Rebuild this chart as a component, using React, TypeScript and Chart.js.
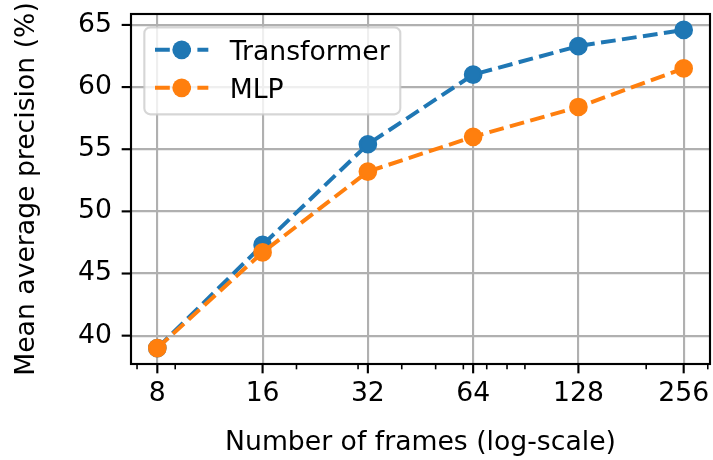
import React, { useEffect, useRef } from 'react';
import { Chart, registerables } from 'chart.js';

Chart.register(...registerables);

// ---- data ----
const frames = [8, 16, 32, 64, 128, 256];
const transformerMAP = [39.0, 47.3, 55.4, 61.0, 63.3, 64.6];
const mlpMAP = [39.0, 46.7, 53.2, 56.0, 58.4, 61.5];
const seriesLabels = ['Transformer', 'MLP'];
const seriesColors = ['#1f77b4', '#ff7f0e'];
const xMajorTicks = [8, 16, 32, 64, 128, 256];
const xMinorTicks = [7, 9, 20, 30, 40, 50, 60, 70, 80, 90, 200, 300];
const yTicks = [40, 45, 50, 55, 60, 65];
const xTitle = 'Number of frames (log-scale)';
const yTitle = 'Mean average precision (%)';

const FONT = "'DejaVu Sans', sans-serif";
const PT = 192 / 72; // px per point
const FS = 10 * PT;
const LW = 1.5 * PT;
const DASH = [3.7 * LW, 1.6 * LW];

// matplotlib-like 5% margins
const allY = [...transformerMAP, ...mlpMAP];
const yLo = Math.min(...allY);
const yHi = Math.max(...allY);
const yMin = yLo - 0.05 * (yHi - yLo);
const yMax = yHi + 0.05 * (yHi - yLo);
const lx0 = Math.log2(Math.min(...frames));
const lx1 = Math.log2(Math.max(...frames));
const xMin = Math.pow(2, lx0 - 0.05 * (lx1 - lx0));
const xMax = Math.pow(2, lx1 + 0.05 * (lx1 - lx0));

const framePlugin = {
  id: 'mplFrame',
  afterDatasetsDraw(chart: any) {
    const { ctx, chartArea: a, scales } = chart;
    const xs = scales.x;
    const ys = scales.y;
    ctx.save();
    ctx.strokeStyle = '#000';
    const seg = (x0: number, y0: number, x1: number, y1: number) => {
      ctx.beginPath();
      ctx.moveTo(x0, y0);
      ctx.lineTo(x1, y1);
      ctx.stroke();
    };
    ctx.lineWidth = 0.8 * PT;
    for (const v of xMajorTicks) {
      const px = xs.getPixelForValue(v);
      seg(px, a.bottom, px, a.bottom + 3.5 * PT);
    }
    ctx.lineWidth = 0.6 * PT;
    for (const v of xMinorTicks) {
      if (v < xs.min || v > xs.max) continue;
      const px = xs.getPixelForValue(v);
      seg(px, a.bottom, px, a.bottom + 2 * PT);
    }
    ctx.lineWidth = 0.8 * PT;
    for (const v of yTicks) {
      const py = ys.getPixelForValue(v);
      seg(a.left - 3.5 * PT, py, a.left, py);
    }
    ctx.lineJoin = 'miter';
    ctx.strokeRect(a.left, a.top, a.right - a.left, a.bottom - a.top);
    ctx.restore();
  },
  afterDraw(chart: any) {
    const { ctx, chartArea: a } = chart;
    const ds = chart.data.datasets;
    ctx.save();
    ctx.font = `${FS}px ${FONT}`;
    const left = a.left + 0.5 * FS;
    const top = a.top + 0.5 * FS;
    const handleX = left + 0.4 * FS;
    const handleLen = 2 * FS;
    const textX = handleX + handleLen + 0.8 * FS;
    let maxW = 0;
    for (const d of ds) maxW = Math.max(maxW, ctx.measureText(d.label).width);
    const rowH = 38;
    const firstRow = top + 22.5;
    const w = textX + maxW + 0.4 * FS - left;
    const h = 22.5 + rowH * (ds.length - 1) + 26.5;
    ctx.beginPath();
    ctx.roundRect(left, top, w, h, 6);
    ctx.fillStyle = 'rgba(255,255,255,0.8)';
    ctx.fill();
    ctx.strokeStyle = 'rgba(204,204,204,0.8)';
    ctx.lineWidth = 0.8 * PT;
    ctx.stroke();
    ds.forEach((d: any, i: number) => {
      const cy = firstRow + i * rowH;
      ctx.strokeStyle = d.borderColor;
      ctx.lineWidth = LW;
      ctx.setLineDash(DASH);
      ctx.lineCap = 'butt';
      ctx.beginPath();
      ctx.moveTo(handleX, cy);
      ctx.lineTo(handleX + handleLen, cy);
      ctx.stroke();
      ctx.setLineDash([]);
      ctx.beginPath();
      ctx.arc(handleX + handleLen / 2, cy, 3 * PT + 0.5 * PT, 0, Math.PI * 2);
      ctx.fillStyle = d.borderColor;
      ctx.fill();
      ctx.fillStyle = '#000';
      ctx.textBaseline = 'alphabetic';
      ctx.textAlign = 'left';
      ctx.fillText(d.label, textX, cy + (0.729 * FS) / 2);
    });
    ctx.restore();
  },
};

export default function App() {
  const ref = useRef<HTMLCanvasElement | null>(null);
  useEffect(() => {
    document.body.style.margin = '0';
    const canvas = ref.current;
    if (!canvas) return;
    const mk = (vals: number[], i: number, order: number) => ({
      label: seriesLabels[i],
      data: frames.map((f, k) => ({ x: f, y: vals[k] })),
      borderColor: seriesColors[i],
      backgroundColor: seriesColors[i],
      pointBackgroundColor: seriesColors[i],
      pointBorderColor: seriesColors[i],
      borderWidth: LW,
      borderDash: DASH,
      borderCapStyle: 'butt',
      borderJoinStyle: 'round',
      pointRadius: 3 * PT,
      pointBorderWidth: 1 * PT,
      pointHoverRadius: 3 * PT,
      tension: 0,
      fill: false,
      order,
      clip: false,
    });
    const chart = new Chart(canvas, {
      type: 'line',
      data: {
        datasets: [mk(transformerMAP, 0, 1), mk(mlpMAP, 1, 0)] as any,
      },
      plugins: [framePlugin],
      options: {
        animation: false,
        responsive: false,
        devicePixelRatio: 1,
        layout: { autoPadding: false, padding: { top: 14, right: 3, left: 0, bottom: 0 } },
        plugins: { legend: { display: false }, tooltip: { enabled: false } },
        events: [],
        scales: {
          x: {
            type: 'logarithmic',
            min: xMin,
            max: xMax,
            afterBuildTicks: (s: any) => {
              s.ticks = xMajorTicks.map((v) => ({ value: v }));
            },
            afterFit: (s: any) => {
              s.height = 96;
              s.paddingLeft = 0;
              s.paddingRight = 0;
            },
            grid: {
              color: '#b0b0b0',
              lineWidth: 0.8 * PT,
              drawTicks: true,
              tickLength: 13,
              tickColor: 'rgba(0,0,0,0)',
            },
            border: { display: false },
            ticks: {
              autoSkip: false,
              maxRotation: 0,
              padding: 1,
              color: '#000',
              font: { family: FONT, size: FS },
              callback: (v: any) => String(v),
            },
            title: {
              display: true,
              text: xTitle,
              color: '#000',
              font: { family: FONT, size: FS },
              padding: { top: 0, bottom: 1 },
            },
          },
          y: {
            type: 'linear',
            min: yMin,
            max: yMax,
            afterBuildTicks: (s: any) => {
              s.ticks = yTicks.map((v) => ({ value: v }));
            },
            afterFit: (s: any) => {
              s.width = 131;
              s.paddingTop = 0;
              s.paddingBottom = 0;
            },
            grid: { color: '#b0b0b0', lineWidth: 0.8 * PT, drawTicks: false },
            border: { display: false },
            ticks: {
              padding: 19,
              color: '#000',
              font: { family: FONT, size: FS },
              callback: (v: any) => String(v),
            },
            title: {
              display: true,
              text: yTitle,
              color: '#000',
              font: { family: FONT, size: FS },
              padding: { top: 11, bottom: 0 },
            },
          },
        },
      } as any,
    });
    return () => chart.destroy();
  }, []);
  return (
    <div style={{ width: 713, height: 460 }}>
      <canvas ref={ref} width={713} height={460} style={{ display: 'block' }} />
    </div>
  );
}
